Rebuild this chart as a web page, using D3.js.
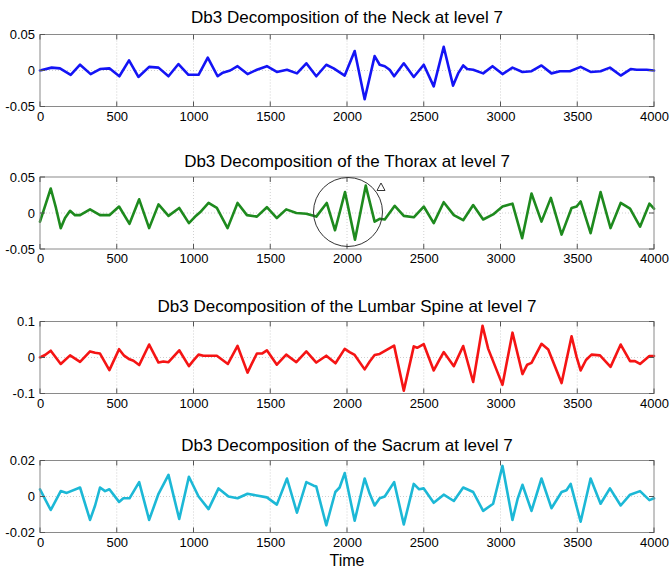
<!DOCTYPE html>
<html><head><meta charset="utf-8">
<script src="https://cdn.jsdelivr.net/npm/d3@7"></script>
<style>
html,body{margin:0;padding:0;background:#fff;}
svg{display:block;font-family:"Liberation Sans",Arial,Helvetica,sans-serif;}
</style></head>
<body>
<svg id="c" width="670" height="573"></svg>
<script>
// ---------- data ----------
const xTicks = [0,500,1000,1500,2000,2500,3000,3500,4000];

const titles = [
  "Db3 Decomposition of the Neck at level 7",
  "Db3 Decomposition of the Thorax at level 7",
  "Db3 Decomposition of the Lumbar Spine at level 7",
  "Db3 Decomposition of the Sacrum at level 7"
];
const yDomains = [[-0.05,0.05],[-0.05,0.05],[-0.1,0.1],[-0.02,0.02]];
const yTickValues = [[-0.05,0,0.05],[-0.05,0,0.05],[-0.1,0,0.1],[-0.02,0,0.02]];
const yTickLabels = [["-0.05","0","0.05"],["-0.05","0","0.05"],["-0.1","0","0.1"],["-0.02","0","0.02"]];
const colors = ["#1414f5","#1e8a1e","#f51414","#1cb8d6"];

const neckT = [0,76,130,200,261,330,391,452,517,580,641,711,772,837,902,967,1033,1093,1157,1191,1239,1287,1352,1413,1478,1543,1609,1674,1735,1800,1865,1913,1985,2050,2115,2180,2213,2246,2278,2307,2370,2435,2500,2565,2630,2691,2724,2757,2783,2822,2887,2948,3013,3078,3143,3202,3267,3332,3387,3452,3522,3587,3652,3713,3783,3848,3887,3952,4000];
const neckV = [0,0.004,0.003,-0.006,0.008,-0.005,0.002,0.003,-0.008,0.014,-0.009,0.005,0.004,-0.008,0.009,-0.006,-0.006,0.018,-0.008,-0.003,0,0.006,-0.005,0.001,0.006,-0.002,0.001,-0.004,0.010,-0.008,0.008,0.003,-0.007,0.027,-0.040,0.020,0.008,0.006,0.001,-0.008,0.010,-0.009,0.008,-0.022,0.033,-0.021,-0.004,0.007,0.002,0.001,-0.004,0.006,-0.005,0.004,-0.002,-0.001,0.007,-0.004,-0.001,-0.001,0.005,-0.002,-0.001,0.004,-0.007,0.002,0.001,0.001,0];

const thoraxT = [0,70,104,135,163,196,228,261,326,391,452,515,583,646,711,772,837,907,970,1011,1043,1098,1152,1222,1287,1348,1413,1478,1543,1604,1670,1735,1800,1868,1922,1987,2052,2122,2180,2213,2246,2311,2370,2435,2500,2565,2630,2696,2757,2822,2887,2952,3013,3078,3141,3202,3267,3328,3398,3463,3496,3522,3587,3652,3717,3783,3844,3909,3970,4000];
const thoraxV = [-0.012,0.034,0.007,-0.021,-0.007,0.003,-0.003,-0.003,0.005,-0.003,-0.003,0.009,-0.015,0.019,-0.021,0.012,-0.004,0.007,-0.014,-0.005,0.001,0.014,0.007,-0.021,0.014,-0.003,-0.005,0.008,-0.007,0.005,0,-0.001,-0.005,0.014,-0.024,0.029,-0.037,0.038,-0.012,-0.008,-0.009,0.010,-0.004,-0.006,0.009,-0.014,0.015,-0.003,-0.010,0.011,-0.009,-0.002,0.009,0.013,-0.035,0.027,-0.012,0.021,-0.030,0.007,0.009,0.016,-0.028,0.029,-0.021,0.014,0.006,-0.019,0.013,0.006];

const lumbarT = [0,33,70,135,196,261,326,359,391,452,515,548,583,609,646,711,772,804,837,907,970,1000,1033,1065,1152,1224,1287,1352,1380,1413,1446,1478,1543,1604,1670,1735,1800,1865,1925,1985,2017,2050,2115,2148,2180,2213,2307,2370,2435,2457,2500,2565,2600,2630,2696,2757,2822,2883,2920,3013,3078,3143,3174,3202,3267,3311,3398,3463,3496,3522,3557,3593,3648,3717,3783,3844,3876,3909,3970,4000];
const lumbarV = [0,0.007,0.019,-0.018,0.006,-0.012,0.017,0.013,0.011,-0.035,0.023,0.005,-0.005,-0.009,-0.021,0.036,-0.014,-0.011,-0.013,0.020,-0.024,-0.008,0.008,0.005,0.005,-0.018,0.032,-0.042,-0.017,0.011,0.011,0.020,-0.020,0.008,-0.013,0.017,-0.014,0.005,-0.016,0.024,0.015,0.007,-0.033,-0.011,0.007,0.010,0.033,-0.092,0.031,0.027,0.037,-0.036,-0.008,0.015,-0.024,0.032,-0.068,0.088,0.024,-0.076,0.069,-0.046,-0.020,-0.015,0.038,0.022,-0.071,0.059,0.001,-0.036,-0.007,0.008,0.006,-0.026,0.036,-0.010,-0.010,-0.018,0.004,0.004];

const sacrumT = [0,70,135,174,261,326,359,391,424,452,515,543,583,646,711,772,837,907,970,1033,1098,1163,1228,1287,1352,1478,1543,1609,1674,1735,1783,1800,1865,1924,1952,1985,2050,2115,2148,2180,2213,2246,2307,2370,2435,2470,2500,2565,2630,2696,2757,2822,2887,2952,3013,3078,3111,3143,3202,3267,3332,3398,3430,3457,3522,3587,3652,3713,3783,3844,3909,3970,4000];
const sacrumV = [0.004,-0.0075,0.003,0.002,0.005,-0.013,-0.005,0.005,0.003,0.004,-0.003,-0.001,-0.001,0.008,-0.013,0.0015,0.012,-0.0125,0.011,0,-0.007,0.0045,0,-0.001,0.0015,-0.0005,-0.0045,0.010,-0.009,0.008,0.006,0.0055,-0.016,0.0025,0.005,0.013,-0.0135,0.010,0.0015,-0.005,-0.001,0,0.008,-0.0155,0.007,0.004,0.0045,-0.0035,0.001,-0.0025,0.005,0.0025,-0.008,-0.004,0.017,-0.013,-0.0015,0.0065,-0.008,0.010,-0.0065,0.0025,0.0035,0.007,-0.014,0.010,-0.004,0.0045,-0.005,0.001,0.003,-0.002,-0.001];

const seriesT = [neckT, thoraxT, lumbarT, sacrumT];
const seriesV = [neckV, thoraxV, lumbarV, sacrumV];

// annotation (thorax): circle around the burst near t=2000, y=0
const circleCenter = {t: 2000, v: 0.0};
const xLabel = "Time";

// ---------- layout ----------
const left = 40, right = 654, ph = 72;
const tops = [34.5, 177, 321.5, 460.5];

const svg = d3.select("#c");
const x = d3.scaleLinear().domain([0,4000]).range([left,right]);

tops.forEach((top, i) => {
  const y = d3.scaleLinear().domain(yDomains[i]).range([top+ph, top]);
  const g = svg.append("g");

  // grid (dotted)
  g.append("g").selectAll("line").data(xTicks.slice(1,-1)).join("line")
    .attr("x1", d=>x(d)).attr("x2", d=>x(d)).attr("y1", top).attr("y2", top+ph)
    .attr("stroke","#c4c4c4").attr("stroke-width",0.8).attr("stroke-dasharray","1,2");
  g.append("g").selectAll("line").data(yTickValues[i].filter(d=>d===0)).join("line")
    .attr("x1", left).attr("x2", right).attr("y1", d=>y(d)).attr("y2", d=>y(d))
    .attr("stroke","#c4c4c4").attr("stroke-width",0.8).attr("stroke-dasharray","1,2");

  // data line
  const pts = seriesT[i].map((t,k)=>[t, seriesV[i][k]]);
  g.append("path").datum(pts)
    .attr("d", d3.line().x(d=>x(d[0])).y(d=>y(d[1])))
    .attr("fill","none").attr("stroke",colors[i]).attr("stroke-width",2.6)
    .attr("stroke-linejoin","round").attr("stroke-linecap","round");

  // box
  g.append("rect").attr("x",left).attr("y",top).attr("width",right-left).attr("height",ph)
    .attr("fill","none").attr("stroke","#8a8a8a").attr("stroke-width",1);

  // inward tick marks
  const tk = g.append("g").attr("stroke","#555").attr("stroke-width",1);
  xTicks.forEach(t=>{
    tk.append("line").attr("x1",x(t)).attr("x2",x(t)).attr("y1",top+ph).attr("y2",top+ph-5);
    tk.append("line").attr("x1",x(t)).attr("x2",x(t)).attr("y1",top).attr("y2",top+5);
  });
  yTickValues[i].forEach(v=>{
    tk.append("line").attr("x1",left).attr("x2",left+5).attr("y1",y(v)).attr("y2",y(v));
    tk.append("line").attr("x1",right).attr("x2",right-5).attr("y1",y(v)).attr("y2",y(v));
  });

  // axes labels via d3 axes
  const ax = g.append("g").attr("transform",`translate(0,${top+ph})`)
    .call(d3.axisBottom(x).tickValues(xTicks).tickSize(0).tickPadding(5).tickFormat(d3.format("d")));
  ax.select(".domain").remove();
  ax.selectAll("text").attr("font-size",13).attr("fill","#000").attr("font-family","Liberation Sans, Arial, sans-serif");

  const ay = g.append("g").attr("transform",`translate(${left},0)`)
    .call(d3.axisLeft(y).tickValues(yTickValues[i]).tickSize(0).tickPadding(5)
      .tickFormat((d,k)=>yTickLabels[i][k]));
  ay.select(".domain").remove();
  ay.selectAll("text").attr("font-size",13).attr("fill","#000").attr("font-family","Liberation Sans, Arial, sans-serif");

  // title
  svg.append("text").attr("x",(left+right)/2).attr("y", top - (i===0?11.5:10))
    .attr("text-anchor","middle").attr("font-size",17).attr("fill","#000").text(titles[i]);

  if (i === 1) {
    const cx = x(circleCenter.t) + 1, cy = y(circleCenter.v) - 1;
    g.append("circle").attr("cx",cx).attr("cy",cy).attr("r",34.5)
      .attr("fill","none").attr("stroke","#333").attr("stroke-width",1);
    const tx = cx + 33, ty = cy - 25;
    g.append("path").attr("d",`M${tx-4},${ty+3.5}L${tx},${ty-4}L${tx+4},${ty+3.5}Z`)
      .attr("fill","none").attr("stroke","#333").attr("stroke-width",1);
  }
});

svg.append("text").attr("x",(left+right)/2).attr("y",566).attr("text-anchor","middle")
  .attr("font-size",16).attr("fill","#000").text(xLabel);
</script>
</body></html>
